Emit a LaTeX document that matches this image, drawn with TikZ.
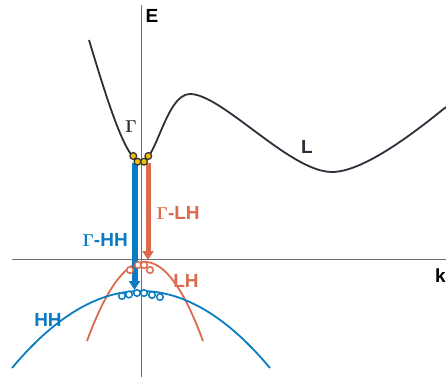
\documentclass[tikz,border=0pt]{standalone}
\usepackage{fontspec}
\setmainfont{Liberation Sans}
\usepackage{amsmath}
\definecolor{hhblue}{RGB}{10,124,193}
\definecolor{lhorange}{RGB}{221,106,76}
\definecolor{cbgray}{RGB}{46,46,58}
\definecolor{axgray}{RGB}{112,112,112}
\definecolor{eyellow}{RGB}{240,192,0}
\usetikzlibrary{arrows.meta}
\tikzset{
  axis/.style={axgray, line width=1pt},
  lbl/.style={font=\fontsize{19}{22}\selectfont\bfseries, inner sep=0pt},
  band/.style={line width=1.8pt, #1},
  trans/.style={line width=#1, -{Triangle[width=11pt,length=9pt]}},
  electron/.style={fill=eyellow, draw=cbgray, line width=1.2pt},
  hole/.style={draw=#1, line width=1.5pt, fill=white},
}

\begin{document}
\begin{tikzpicture}[x=1pt,y=-1pt]
  \useasboundingbox (0,0) rectangle (446,377);
  % Axes
  \draw[axis] (141,5) -- (141,377);
  \draw[axis] (12,259) -- (446,259);
  \node[lbl] (E) at (152,16) {E};
  \node[lbl, anchor=west] (k) at (435,276) {k};
  % Conduction band
  \draw[band=cbgray] (89,40) .. controls (110,110) and (127,162) .. (141,162)
    .. controls (156,162) and (166,94) .. (190,94)
    .. controls (222,94) and (290,172) .. (332,172)
    .. controls (365,172) and (420,128) .. (446,107);
  % Valence bands
  \draw[band=lhorange] plot[domain=87:203, samples=60] (\x,{262+79*((\x-145)/58)^2});
  \draw[band=hhblue] plot[domain=12:270, samples=80] (\x,{291+77*((\x-141)/129)^2});
  % Transitions
  \coordinate (gHH) at (134.5,163);
  \coordinate (hhTop) at (134.5,290);
  \coordinate (gLH) at (148,163);
  \coordinate (lhTop) at (148,260);
  \draw[trans=6pt, hhblue] (gHH) -- (hhTop);
  \draw[trans=5pt, lhorange] (gLH) -- (lhTop);
  % Electrons at Gamma
  \foreach \ex/\ey in {133.3/156, 148.3/156, 137.5/161.7, 144/161.7}
    \filldraw[electron] (\ex,\ey) circle (3.4pt);
  % Holes
  \foreach \hx/\hy in {130/270, 138/265, 144/265, 150/270}
    \draw[hole=lhorange] (\hx,\hy) circle (3.3pt);
  \foreach \hx/\hy in {122/296, 129/294.5, 137/293, 144/293, 152/295, 160/297}
    \draw[hole=hhblue] (\hx,\hy) circle (3.3pt);
  % Labels
  \node[lbl, text=cbgray] (Gm) at (131,127) {$\boldsymbol{\Gamma}$};
  \node[lbl, text=cbgray] (Lv) at (307,147) {L};
  \node[lbl, text=hhblue] (GHH) at (105,240) {$\boldsymbol{\Gamma}$-HH};
  \node[lbl, text=lhorange] (GLH) at (178,213) {$\boldsymbol{\Gamma}$-LH};
  \node[lbl, text=hhblue] (HH) at (48,320) {HH};
  \node[lbl, text=lhorange] (LH) at (186,281) {LH};
\end{tikzpicture}
\end{document}
